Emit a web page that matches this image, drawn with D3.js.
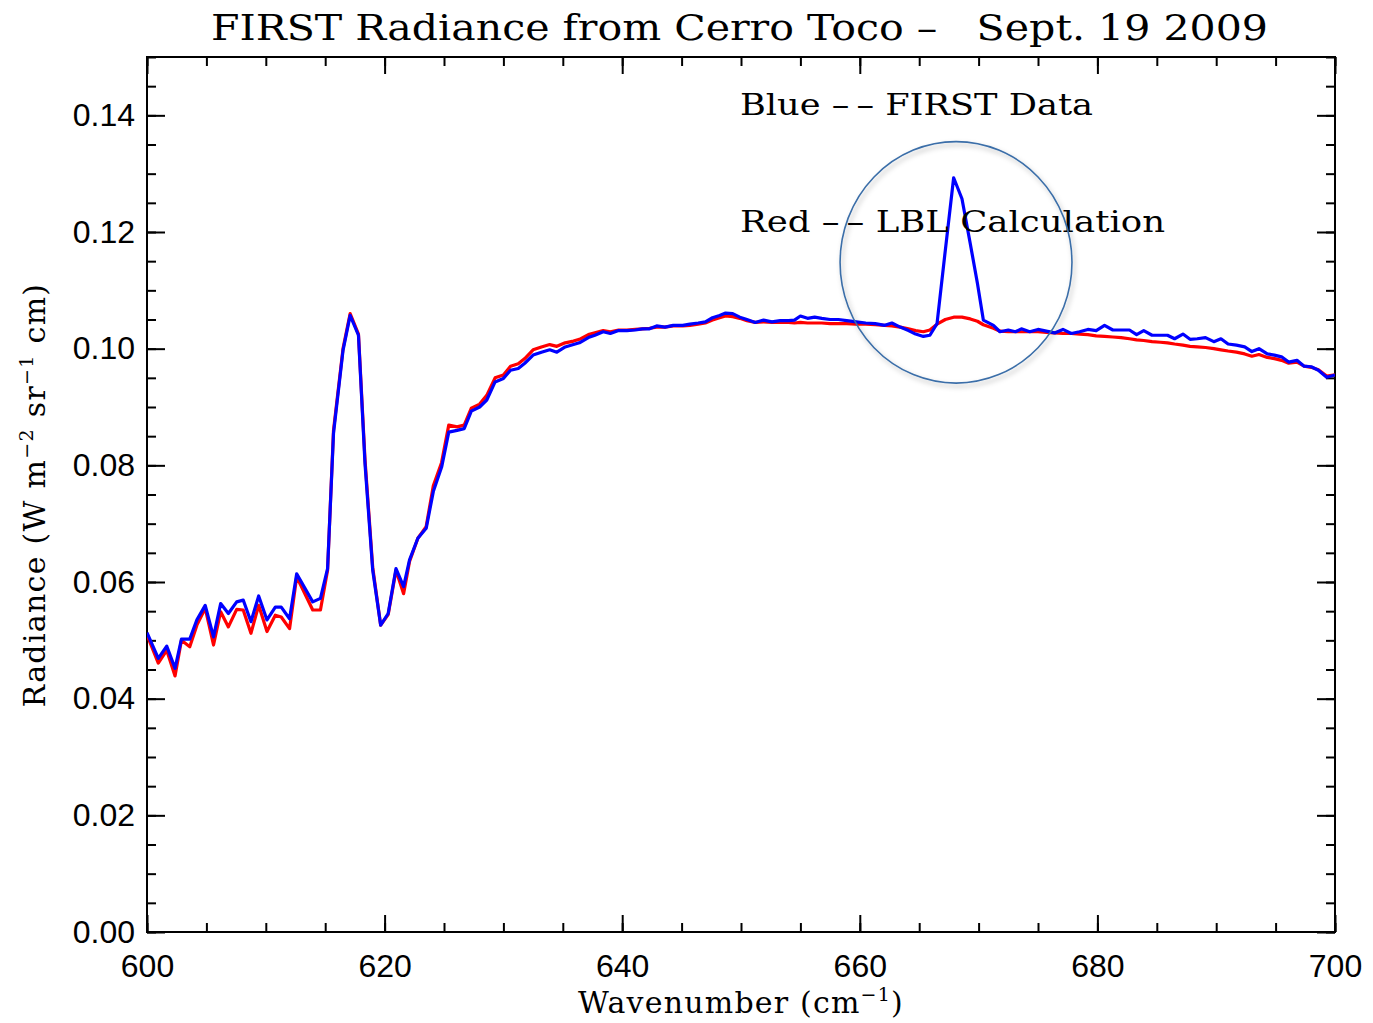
<!DOCTYPE html>
<html>
<head>
<meta charset="utf-8">
<script src="https://d3js.org/d3.v7.min.js"></script>
<style>
  body { margin: 0; background: #fff; }
</style>
</head>
<body>
<div id="chart"></div>
<script>
// wavenumber grid (cm-1)
var wavenumber = [
  600.0, 600.95, 601.66, 602.36, 602.9, 603.6, 604.2, 604.9, 605.6, 606.2,
  606.85, 607.55, 608.1, 608.75, 609.4, 610.1, 610.8, 611.3, 612.0, 612.6,
  613.95, 614.6, 615.2, 615.7, 616.5, 617.1, 617.8, 618.35, 619.0, 619.67,
  620.3, 620.96, 621.6, 622.1, 622.8, 623.5, 624.1, 624.8, 625.4, 626.1,
  626.7, 627.3, 628.0, 628.6, 629.3, 630.0, 630.6, 631.25, 631.8, 632.5,
  633.2, 633.9, 634.5, 635.2, 635.9, 636.4, 637.15, 637.7, 638.4, 639.0,
  639.7, 640.4, 641.1, 641.7, 642.3, 642.9, 643.6, 644.3, 645.1, 645.7,
  646.4, 647.0, 647.6, 648.2, 648.7, 649.3, 649.9, 650.5, 651.2, 651.9,
  652.6, 653.3, 654.0, 654.5, 655.0, 655.6, 656.2, 656.8, 657.5, 658.2,
  658.9, 659.7, 660.5, 661.3, 662.1, 662.7, 663.4, 664.1, 664.7, 665.35,
  665.9, 666.5, 667.2, 667.9, 668.6, 669.3, 669.9, 670.4, 671.25, 671.8,
  672.5, 673.1, 673.6, 674.3, 675.0, 675.7, 676.4, 677.1, 677.8, 678.5,
  679.2, 679.9, 680.6, 681.3, 682.0, 682.7, 683.3, 683.9, 684.6, 685.3,
  685.9, 686.5, 687.2, 687.8, 688.4, 689.1, 689.8, 690.4, 691.0, 691.7,
  692.4, 693.0, 693.6, 694.3, 694.9, 695.5, 696.1, 696.8, 697.4, 698.0,
  698.6, 699.3, 700.0
];

// Blue -- FIRST Data
var firstData = [
  0.0513, 0.0469, 0.0490, 0.0452, 0.0502, 0.0502, 0.0535, 0.0560, 0.0506, 0.0563,
  0.0546, 0.0566, 0.0569, 0.0532, 0.0576, 0.0535, 0.0557, 0.0557, 0.0537, 0.0614,
  0.0566, 0.0572, 0.0623, 0.0855, 0.0997, 0.1057, 0.1023, 0.0803, 0.0620, 0.0526,
  0.0546, 0.0623, 0.0592, 0.0638, 0.0675, 0.0692, 0.0755, 0.0797, 0.0857, 0.0860,
  0.0863, 0.0893, 0.0900, 0.0912, 0.0943, 0.0949, 0.0963, 0.0966, 0.0975, 0.0989,
  0.0994, 0.0998, 0.0994, 0.1003, 0.1007, 0.1010, 0.1019, 0.1023, 0.1029, 0.1026,
  0.1031, 0.1031, 0.1032, 0.1034, 0.1034, 0.1039, 0.1037, 0.1040, 0.1040, 0.1042,
  0.1044, 0.1046, 0.1053, 0.1057, 0.1061, 0.1060, 0.1054, 0.1050, 0.1045, 0.1049,
  0.1046, 0.1048, 0.1048, 0.1049, 0.1056, 0.1052, 0.1054, 0.1052, 0.1050, 0.1050,
  0.1048, 0.1046, 0.1044, 0.1043, 0.1040, 0.1044, 0.1037, 0.1031, 0.1025, 0.1021,
  0.1023, 0.1043, 0.1169, 0.1293, 0.1257, 0.1180, 0.1112, 0.1049, 0.1040, 0.1029,
  0.1032, 0.1029, 0.1034, 0.1029, 0.1033, 0.1030, 0.1027, 0.1033, 0.1026, 0.1029,
  0.1033, 0.1031, 0.1040, 0.1032, 0.1032, 0.1032, 0.1024, 0.1031, 0.1023, 0.1023,
  0.1023, 0.1017, 0.1025, 0.1016, 0.1017, 0.1019, 0.1012, 0.1017, 0.1008, 0.1006,
  0.1003, 0.0995, 0.1000, 0.0991, 0.0989, 0.0986, 0.0977, 0.0980, 0.0970, 0.0969,
  0.0963, 0.0951, 0.0955
];

// Red -- LBL Calculation
var lblCalc = [
  0.0509, 0.0461, 0.0483, 0.0439, 0.0500, 0.0489, 0.0526, 0.0555, 0.0492, 0.0549,
  0.0523, 0.0553, 0.0552, 0.0512, 0.0560, 0.0515, 0.0543, 0.0540, 0.0520, 0.0609,
  0.0552, 0.0552, 0.0620, 0.0860, 0.1000, 0.1060, 0.1025, 0.0810, 0.0625, 0.0526,
  0.0544, 0.0620, 0.0580, 0.0635, 0.0675, 0.0695, 0.0765, 0.0805, 0.0869, 0.0866,
  0.0869, 0.0898, 0.0905, 0.0920, 0.0950, 0.0955, 0.0970, 0.0974, 0.0983, 0.0998,
  0.1003, 0.1007, 0.1004, 0.1010, 0.1013, 0.1016, 0.1024, 0.1027, 0.1031, 0.1029,
  0.1032, 0.1032, 0.1033, 0.1034, 0.1035, 0.1037, 0.1037, 0.1039, 0.1039, 0.1040,
  0.1042, 0.1044, 0.1049, 0.1053, 0.1056, 0.1055, 0.1052, 0.1048, 0.1045, 0.1046,
  0.1045, 0.1045, 0.1045, 0.1044, 0.1045, 0.1044, 0.1044, 0.1044, 0.1043, 0.1043,
  0.1043, 0.1042, 0.1042, 0.1041, 0.1040, 0.1039, 0.1037, 0.1034, 0.1031, 0.1029,
  0.1032, 0.1042, 0.1050, 0.1054, 0.1054, 0.1051, 0.1047, 0.1041, 0.1035, 0.1030,
  0.1029, 0.1029, 0.1029, 0.1029, 0.1029, 0.1028, 0.1027, 0.1026, 0.1026, 0.1025,
  0.1024, 0.1022, 0.1021, 0.1020, 0.1019, 0.1017, 0.1015, 0.1014, 0.1012, 0.1011,
  0.1010, 0.1008, 0.1006, 0.1004, 0.1003, 0.1002, 0.1000, 0.0998, 0.0996, 0.0994,
  0.0991, 0.0987, 0.0990, 0.0985, 0.0983, 0.0980, 0.0975, 0.0977, 0.0970, 0.0968,
  0.0964, 0.0953, 0.0955
];

var xTickValues = [600, 620, 640, 660, 680, 700];
var yTickValues = [0.00, 0.02, 0.04, 0.06, 0.08, 0.10, 0.12, 0.14];

// circled feature: centre wavenumber, centre radiance, half-width, half-height
var highlight = [668.1, 0.1148, 9.76, 0.0207];

var width = 1373,
    height = 1023,
    margin = {top: 57, right: 38, bottom: 91, left: 147};

var svg = d3.select("#chart").append("svg")
    .attr("width", width)
    .attr("height", height);

var x = d3.scaleLinear().domain([600, 700]).range([margin.left, width - margin.right]);
var y = d3.scaleLinear().domain([0, 0.15]).range([height - margin.bottom, margin.top]);

var tickFont = "'Liberation Sans', Arial, sans-serif";
var textFont = "'DejaVu Serif', serif";

var defs = svg.append("defs");
defs.append("clipPath").attr("id", "plotclip")
  .append("rect")
    .attr("x", margin.left)
    .attr("y", margin.top)
    .attr("width", width - margin.left - margin.right)
    .attr("height", height - margin.top - margin.bottom);

var shadow = defs.append("filter").attr("id", "shadow")
    .attr("x", "-20%").attr("y", "-20%").attr("width", "140%").attr("height", "140%");
shadow.append("feDropShadow")
    .attr("dx", 2).attr("dy", 3)
    .attr("stdDeviation", 2.5)
    .attr("flood-color", "#000")
    .attr("flood-opacity", 0.3);

// axes: major + minor ticks on all four sides, pointing inward
function styleAxis(g) {
  g.select(".domain").remove();
  g.selectAll("line").attr("stroke", "#000").attr("stroke-width", 2);
  g.selectAll("text").attr("font-family", tickFont).attr("font-size", 32).attr("fill", "#000");
}

var xMinor = d3.range(600, 701, 5),
    yMinor = d3.range(0, 0.1501, 0.005);

svg.append("g")
    .attr("transform", "translate(0," + y(0) + ")")
    .call(d3.axisBottom(x).tickValues(xTickValues).tickSize(-17).tickSizeOuter(0).tickPadding(22).tickFormat(d3.format("d")))
    .call(styleAxis);
svg.append("g")
    .attr("transform", "translate(0," + y(0) + ")")
    .call(d3.axisBottom(x).tickValues(xMinor).tickSize(-9).tickSizeOuter(0).tickFormat(""))
    .call(styleAxis);
svg.append("g")
    .attr("transform", "translate(0," + y(0.15) + ")")
    .call(d3.axisTop(x).tickValues(xTickValues).tickSize(-17).tickSizeOuter(0).tickFormat(""))
    .call(styleAxis);
svg.append("g")
    .attr("transform", "translate(0," + y(0.15) + ")")
    .call(d3.axisTop(x).tickValues(xMinor).tickSize(-9).tickSizeOuter(0).tickFormat(""))
    .call(styleAxis);

svg.append("g")
    .attr("transform", "translate(" + x(600) + ",0)")
    .call(d3.axisLeft(y).tickValues(yTickValues).tickSize(-18).tickSizeOuter(0).tickPadding(12).tickFormat(d3.format(".2f")))
    .call(styleAxis);
svg.append("g")
    .attr("transform", "translate(" + x(600) + ",0)")
    .call(d3.axisLeft(y).tickValues(yMinor).tickSize(-9).tickSizeOuter(0).tickFormat(""))
    .call(styleAxis);
svg.append("g")
    .attr("transform", "translate(" + x(700) + ",0)")
    .call(d3.axisRight(y).tickValues(yTickValues).tickSize(-18).tickSizeOuter(0).tickFormat(""))
    .call(styleAxis);
svg.append("g")
    .attr("transform", "translate(" + x(700) + ",0)")
    .call(d3.axisRight(y).tickValues(yMinor).tickSize(-9).tickSizeOuter(0).tickFormat(""))
    .call(styleAxis);

// frame
svg.append("rect")
    .attr("x", x(600))
    .attr("y", y(0.15))
    .attr("width", x(700) - x(600))
    .attr("height", y(0) - y(0.15))
    .attr("fill", "none")
    .attr("stroke", "#000")
    .attr("stroke-width", 2);

// spectra
var line = d3.line()
    .x(function(d) { return x(d[0]); })
    .y(function(d) { return y(d[1]); });

var plot = svg.append("g").attr("clip-path", "url(#plotclip)");

plot.append("path")
    .datum(d3.zip(wavenumber, lblCalc))
    .attr("d", line)
    .attr("fill", "none")
    .attr("stroke", "#ff0000")
    .attr("stroke-width", 3.2)
    .attr("stroke-linejoin", "round");

plot.append("path")
    .datum(d3.zip(wavenumber, firstData))
    .attr("d", line)
    .attr("fill", "none")
    .attr("stroke", "#0000ff")
    .attr("stroke-width", 3.2)
    .attr("stroke-linejoin", "round");

// legend text
svg.append("text")
    .attr("x", 740).attr("y", 115)
    .attr("font-family", textFont).attr("font-size", 30)
    .attr("textLength", 353).attr("lengthAdjust", "spacingAndGlyphs")
    .text("Blue \u2013\u2009\u2013 FIRST Data");

svg.append("text")
    .attr("x", 740).attr("y", 232)
    .attr("font-family", textFont).attr("font-size", 30)
    .attr("textLength", 425).attr("lengthAdjust", "spacingAndGlyphs")
    .text("Red \u2013\u2009\u2013 LBL Calculation");

// highlight circle
svg.append("ellipse")
    .attr("cx", x(highlight[0]))
    .attr("cy", y(highlight[1]))
    .attr("rx", x(highlight[0] + highlight[2]) - x(highlight[0]))
    .attr("ry", y(highlight[1] - highlight[3]) - y(highlight[1]))
    .attr("fill", "none")
    .attr("stroke", "#3b6ea8")
    .attr("stroke-width", 1.6)
    .attr("filter", "url(#shadow)");

// title
svg.append("text")
    .attr("x", 211).attr("y", 40)
    .attr("font-family", textFont).attr("font-size", 35)
    .attr("textLength", 1057).attr("lengthAdjust", "spacingAndGlyphs")
    .text("FIRST Radiance from Cerro Toco \u2013\u00a0\u00a0 Sept. 19 2009");

// x axis label
var xl = svg.append("text")
    .attr("x", (x(600) + x(700)) / 2)
    .attr("y", 1013)
    .attr("text-anchor", "middle")
    .attr("letter-spacing", 1.2)
    .attr("font-family", textFont).attr("font-size", 30);
xl.append("tspan").text("Wavenumber (cm");
xl.append("tspan").attr("font-size", 19).attr("dy", -12).text("\u22121");
xl.append("tspan").attr("dy", 12).text(")");

// y axis label
var yl = svg.append("text")
    .attr("transform", "translate(45," + 495 + ") rotate(-90)")
    .attr("text-anchor", "middle")
    .attr("letter-spacing", 1.3)
    .attr("font-family", textFont).attr("font-size", 30);
yl.append("tspan").text("Radiance (W m");
yl.append("tspan").attr("font-size", 19).attr("dy", -12).text("\u22122");
yl.append("tspan").attr("dy", 12).text(" sr");
yl.append("tspan").attr("font-size", 19).attr("dy", -12).text("\u22121");
yl.append("tspan").attr("dy", 12).text(" cm)");
</script>
</body>
</html>
